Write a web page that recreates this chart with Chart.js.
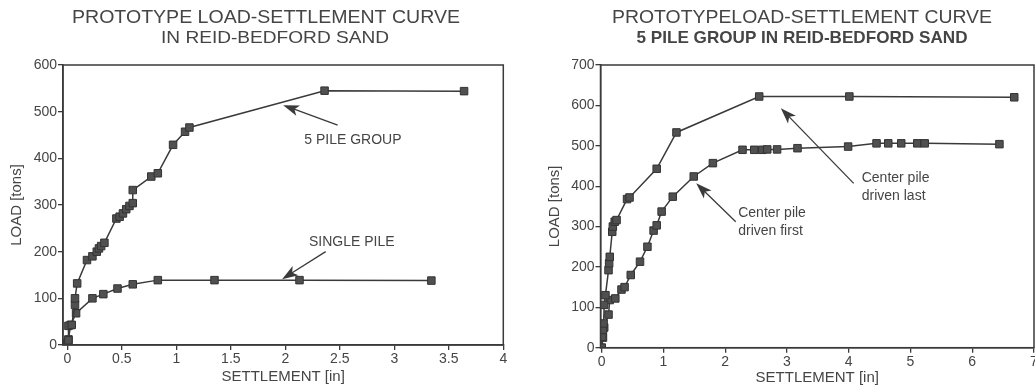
<!DOCTYPE html>
<html>
<head>
<meta charset="utf-8">
<script src="https://cdn.jsdelivr.net/npm/chart.js@4.4.1/dist/chart.umd.min.js"></script>
<style>
  html, body { margin: 0; padding: 0; background: #fff; overflow: hidden; }
  #wrap { position: relative; width: 1035px; height: 388px; overflow: hidden; background: #fff; }
  canvas { position: absolute; top: 0; }
  #left { left: 0; }
  #right { left: 530px; }
</style>
</head>
<body>
<div id="wrap">
  <canvas id="left" width="520" height="388"></canvas>
  <canvas id="right" width="520" height="388"></canvas>
</div>
<script>
// settlement [in] / load [tons], single pile and 5 pile group
const singleSettle = [0, 0.01, 0.03, 0.08, 0.23, 0.33, 0.46, 0.60, 0.83, 1.35, 2.13, 3.34]
const singleLoad   = [4, 12, 43, 68, 100, 109, 121, 130, 139, 139, 139, 138]

const groupSettle = [0, 0.01, 0.01, 0.04, 0.07, 0.07, 0.09, 0.18, 0.23, 0.27, 0.29, 0.31, 0.34,
                     0.45, 0.48, 0.51, 0.54, 0.57, 0.60, 0.60, 0.77, 0.83, 0.97, 1.08, 1.12, 2.36, 3.64]
const groupLoad   = [4, 10, 41, 43, 86, 100, 132, 182, 190, 200, 207, 212, 219,
                     271, 275, 282, 291, 298, 304, 332, 361, 368, 429, 457, 466, 545, 544]

// 5 pile group, center pile driven last / first
const lastSettle = [0, 0.01, 0.02, 0.03, 0.04, 0.06, 0.11, 0.12, 0.13, 0.17, 0.18, 0.21, 0.24,
                    0.41, 0.45, 0.89, 1.21, 2.55, 4.01, 6.68]
const lastLoad   = [0, 27, 44, 60, 106, 130, 192, 209, 225, 287, 300, 312, 316,
                    368, 372, 443, 533, 622, 622, 620]

const firstSettle = [0, 0.02, 0.04, 0.11, 0.13, 0.22, 0.32, 0.37, 0.47, 0.62, 0.74, 0.84, 0.89, 0.97,
                     1.15, 1.49, 1.80, 2.28, 2.47, 2.60, 2.68, 2.84, 3.17, 3.99, 4.45, 4.64, 4.85, 5.11, 5.23, 6.44]
const firstLoad   = [0, 25, 50, 82, 118, 122, 144, 150, 180, 213, 250, 290, 303, 337,
                     374, 424, 457, 490, 490, 490, 491, 491, 494, 498, 506, 506, 506, 506, 506, 504]

const INK = '#3a3a3a'
const TEXT = '#454545'
const FONT = "'Liberation Sans', Arial, sans-serif"

const toPoints = (xs, ys) => xs.map((x, i) => ({ x: x, y: ys[i] }))

const series = (xs, ys) => ({
    data: toPoints(xs, ys),
    showLine: true,
    borderColor: INK,
    borderWidth: 1.5,
    pointStyle: 'rect',
    pointRadius: 5.3,
    pointBackgroundColor: '#505050',
    pointBorderColor: '#333',
    pointBorderWidth: 1,
    tension: 0
})

function arrow(ctx, x1, y1, x2, y2) {
    const ang = Math.atan2(y2 - y1, x2 - x1)
    const len = 16, half = 5.5
    const c = Math.cos(ang), s = Math.sin(ang)
    ctx.beginPath()
    ctx.moveTo(x1, y1)
    ctx.lineTo(x2 - c * len * 0.6, y2 - s * len * 0.6)
    ctx.stroke()
    ctx.beginPath()
    ctx.moveTo(x2, y2)
    ctx.lineTo(x2 - c * len - s * half, y2 - s * len + c * half)
    ctx.lineTo(x2 - c * len * 0.75, y2 - s * len * 0.75)
    ctx.lineTo(x2 - c * len + s * half, y2 - s * len - c * half)
    ctx.closePath()
    ctx.fill()
}

// box around the plot, the two-line heading and the arrow callouts
const framePlugin = {
    id: 'frame',
    afterDraw(chart, args, opts) {
        const { ctx, chartArea: a, scales } = chart
        ctx.save()
        ctx.strokeStyle = INK
        ctx.lineWidth = 1.5
        ctx.strokeRect(a.left, a.top, a.right - a.left, a.bottom - a.top)

        ctx.fillStyle = TEXT
        ctx.textAlign = 'center'
        ctx.textBaseline = 'middle'
        opts.heading.forEach(h => {
            ctx.font = `${h.weight || 'normal'} ${h.size}px ${FONT}`
            const w = ctx.measureText(h.text).width
            ctx.save()
            ctx.translate(h.x, h.y)
            ctx.scale(h.width / w, 1)
            ctx.fillText(h.text, 0, 0)
            ctx.restore()
        })

        ctx.fillStyle = INK
        ctx.lineWidth = 1.3
        opts.notes.forEach(n => {
            const fx = scales.x.getPixelForValue(n.from[0]), fy = scales.y.getPixelForValue(n.from[1])
            const tx = scales.x.getPixelForValue(n.to[0]), ty = scales.y.getPixelForValue(n.to[1])
            arrow(ctx, fx, fy, tx, ty)
            ctx.fillStyle = TEXT
            ctx.font = `14px ${FONT}`
            ctx.textAlign = n.align
            const px = scales.x.getPixelForValue(n.at[0])
            n.lines.forEach((line, i) => {
                ctx.fillText(line, px, scales.y.getPixelForValue(n.at[1]) + i * 18)
            })
            ctx.fillStyle = INK
        })
        ctx.restore()
    }
}

function makeChart(id, cfg) {
    return new Chart(document.getElementById(id), {
        type: 'scatter',
        data: { datasets: cfg.datasets },
        plugins: [framePlugin],
        options: {
            responsive: false,
            animation: false,
            devicePixelRatio: 1,
            layout: { padding: { top: 65, right: cfg.padRight, bottom: 0, left: 0 } },
            plugins: {
                legend: { display: false },
                tooltip: { enabled: false },
                frame: { heading: cfg.heading, notes: cfg.notes }
            },
            scales: {
                x: {
                    type: 'linear',
                    min: cfg.xMin, max: cfg.xMax,
                    ticks: { stepSize: cfg.xStep, includeBounds: false, color: TEXT, padding: 1,
                             font: { family: FONT, size: 14 },
                             callback: v => String(Math.round(v * 10) / 10) },
                    grid: { drawOnChartArea: false, tickLength: 5, color: INK, lineWidth: 1.3 },
                    border: { color: INK, width: 1.5 },
                    title: { display: true, text: 'SETTLEMENT [in]', color: TEXT,
                             font: { family: FONT, size: 15 }, padding: { top: 0, bottom: cfg.xTitlePad } },
                    afterFit(s) { s.height = cfg.xHeight }
                },
                y: {
                    type: 'linear',
                    min: 0, max: cfg.yMax,
                    ticks: { stepSize: 100, color: TEXT, padding: 1, font: { family: FONT, size: 14 } },
                    grid: { drawOnChartArea: false, tickLength: 5, color: INK, lineWidth: 1.3 },
                    border: { color: INK, width: 1.5 },
                    title: { display: true, text: 'LOAD [tons]', color: TEXT,
                             font: { family: FONT, size: 15 }, padding: { top: cfg.yTitlePad, bottom: 0 } },
                    afterFit(s) { s.width = cfg.yWidth }
                }
            }
        }
    })
}

makeChart('left', {
    datasets: [series(groupSettle, groupLoad), series(singleSettle, singleLoad)],
    xMin: -0.04, xMax: 4, xStep: 0.5, yMax: 600,
    yWidth: 63, xHeight: 43, padRight: 16.7, xTitlePad: 2, yTitlePad: 8,
    heading: [
        { text: 'PROTOTYPE LOAD-SETTLEMENT CURVE', x: 266, y: 18, size: 18, width: 388 },
        { text: 'IN REID-BEDFORD SAND', x: 275, y: 38, size: 17, width: 228 }
    ],
    notes: [
        { lines: ['5 PILE GROUP'], at: [2.62, 439], align: 'center', from: [2.48, 471], to: [1.98, 514] },
        { lines: ['SINGLE PILE'], at: [2.61, 221], align: 'center', from: [2.37, 200], to: [1.97, 141] }
    ]
})

makeChart('right', {
    datasets: [series(lastSettle, lastLoad), series(firstSettle, firstLoad)],
    xMin: -0.02, xMax: 7, xStep: 1, yMax: 700,
    yWidth: 70.5, xHeight: 40.3, padRight: 16, xTitlePad: 1, yTitlePad: 16,
    heading: [
        { text: 'PROTOTYPELOAD-SETTLEMENT CURVE', x: 272, y: 18, size: 18, width: 380 },
        { text: '5 PILE GROUP IN REID-BEDFORD SAND', x: 272, y: 38, size: 17, width: 331, weight: 'bold' }
    ],
    notes: [
        { lines: ['Center pile', 'driven last'], at: [4.21, 420], align: 'left', from: [4.08, 407], to: [2.9, 593] },
        { lines: ['Center pile', 'driven first'], at: [2.21, 333], align: 'left', from: [2.17, 312], to: [1.53, 407] }
    ]
})
</script>
</body>
</html>
